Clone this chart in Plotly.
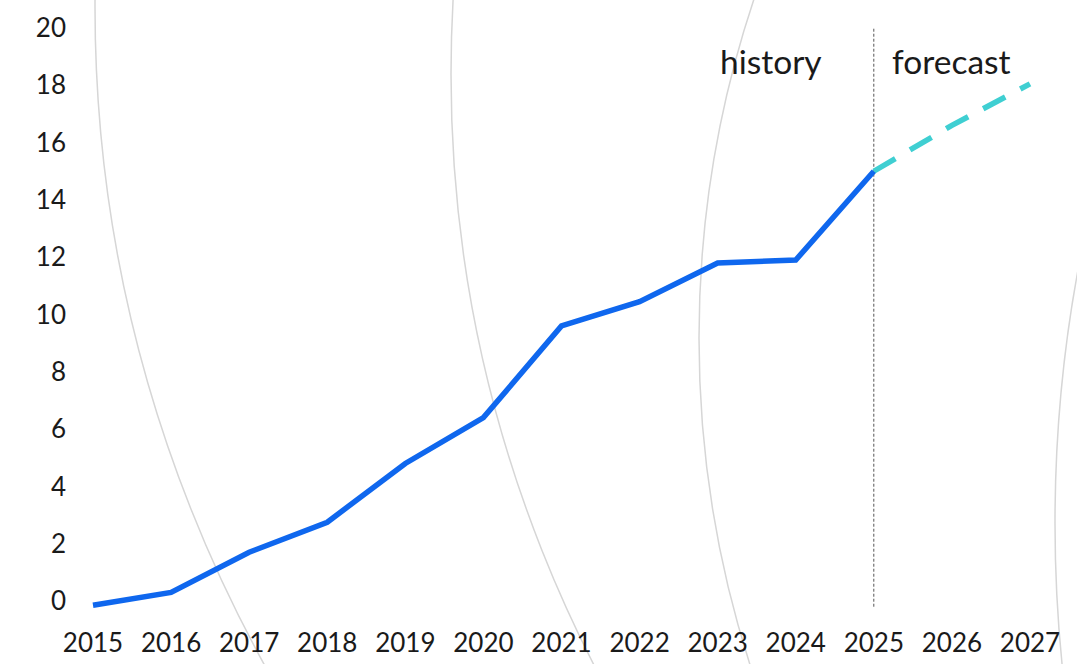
import plotly.graph_objects as go

# ---- data ----
hist_years = [2015, 2016, 2017, 2018, 2019, 2020, 2021, 2022, 2023, 2024, 2025]
hist_values = [-0.15, 0.3, 1.7, 2.75, 4.8, 6.4, 9.6, 10.45, 11.8, 11.9, 15.0]
fc_years = [2025, 2026, 2027]
fc_values = [15.0, 16.6, 18.05]
x_ticks = list(range(2015, 2028))
y_ticks = list(range(0, 21, 2))
split_year = 2025

# ---- layout geometry (pixels) ----
W, H = 1077, 664
ML, MR, MT, MB = 85, 15, 10, 44
PW, PH = W - ML - MR, H - MT - MB

def px_to_paper_x(px):
    return (px - ML) / PW

def px_to_paper_y(py):
    return (H - MB - py) / PH

fig = go.Figure()

# decorative background arcs (circles in pixel space: cx, cy, r)
arcs = [(1457, 7, 1362), (1744, 74, 1293), (1770, 338, 1071), (2445, 523, 1390)]
for cx, cy, r in arcs:
    fig.add_shape(type="circle", xref="paper", yref="paper",
                  x0=px_to_paper_x(cx - r), x1=px_to_paper_x(cx + r),
                  y0=px_to_paper_y(cy + r), y1=px_to_paper_y(cy - r),
                  line=dict(color="#D6D6D6", width=1.5), layer="below")

fig.add_shape(type="line", xref="x", yref="y",
              x0=split_year, x1=split_year, y0=-0.2, y1=20,
              line=dict(color="#555555", width=1, dash="3px,2px"), layer="below")

fig.add_trace(go.Scatter(x=fc_years, y=fc_values, mode="lines",
                         line=dict(color="#3FCFD2", width=5.5, dash="25px,17px"),
                         hoverinfo="skip", showlegend=False))
fig.add_trace(go.Scatter(x=hist_years, y=hist_values, mode="lines",
                         line=dict(color="#0F67EE", width=5.5),
                         showlegend=False))

font_family = "Lato, 'Open Sans', sans-serif"
fig.add_annotation(x=2023.68, y=18.85, xref="x", yref="y", text="history",
                   showarrow=False, font=dict(family=font_family, size=33.5, color="#1a1a1a"))
fig.add_annotation(x=2026.0, y=18.85, xref="x", yref="y", text="forecast",
                   showarrow=False, font=dict(family=font_family, size=33.5, color="#1a1a1a"))

px_per_year = 78.08
x0 = 2015 - (93 - ML) / px_per_year
x1 = x0 + PW / px_per_year
px_per_unit = 28.65
y_bottom = -(H - MB - 601) / px_per_unit
y_top = y_bottom + PH / px_per_unit

fig.update_layout(
    width=W, height=H,
    margin=dict(l=ML, r=MR, t=MT, b=MB, autoexpand=False),
    paper_bgcolor="white", plot_bgcolor="rgba(0,0,0,0)",
    font=dict(family=font_family, size=26, color="#1a1a1a"),
    showlegend=False,
)
fig.update_xaxes(range=[x0, x1], tickvals=x_ticks, ticktext=[str(v) for v in x_ticks],
                 showgrid=False, zeroline=False, showline=False, ticks="",
                 ticklabelstandoff=5, automargin=False, fixedrange=True)
fig.update_yaxes(range=[y_bottom, y_top], tickvals=y_ticks, ticktext=[str(v) for v in y_ticks],
                 showgrid=False, zeroline=False, showline=False, ticks="",
                 ticklabelstandoff=18, automargin=False, fixedrange=True)

fig.write_html("out.html", config={"displayModeBar": False},
               post_script="document.body.style.margin='0px';document.body.style.overflow='hidden';")
